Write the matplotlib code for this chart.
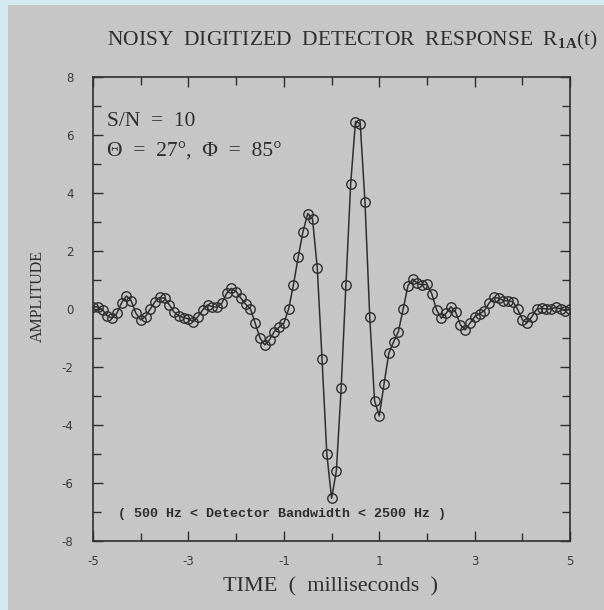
"""Noisy digitized detector response, redrawn from a plotter figure."""

import matplotlib

matplotlib.use("Agg")
import matplotlib.pyplot as plt
from matplotlib.patches import Rectangle
from matplotlib.ticker import MultipleLocator

# sample times (ms), 0.1 ms spacing as digitized
time_ms = [round(-5.0 + 0.1 * i, 1) for i in range(101)]
amplitude = [
    0.06, 0.08, -0.03, -0.24, -0.32, -0.15, 0.22, 0.45, 0.28, -0.15,
    -0.38, -0.26, 0.00, 0.25, 0.40, 0.37, 0.14, -0.11, -0.24, -0.30,
    -0.34, -0.44, -0.26, -0.03, 0.14, 0.08, 0.06, 0.20, 0.54, 0.71,
    0.60, 0.37, 0.16, 0.00, -0.50, -1.00, -1.24, -1.06, -0.78, -0.63,
    -0.49, 0.00, 0.83, 1.79, 2.66, 3.29, 3.10, 1.41, -1.74, -5.00,
    -6.53, -5.58, -2.74, 0.83, 4.31, 6.46, 6.39, 3.68, -0.29, -3.16,
    -3.69, -2.57, -1.52, -1.13, -0.78, 0.00, 0.80, 1.03, 0.88, 0.83,
    0.85, 0.52, -0.03, -0.32, -0.15, 0.08, -0.11, -0.55, -0.72, -0.49,
    -0.26, -0.17, -0.06, 0.20, 0.40, 0.37, 0.29, 0.28, 0.25, -0.01,
    -0.38, -0.47, -0.26, 0.00, 0.02, 0.00, 0.00, 0.06, 0.00, -0.06,
    0.00,
]
x_ticks = [-5, -3, -1, 1, 3, 5]
y_ticks = [-8, -6, -4, -2, 0, 2, 4, 6, 8]

SERIF = "Liberation Serif"
INK = "#2e2e2e"
PAPER = "#c6c6c6"

plt.rcParams["axes.unicode_minus"] = False
plt.rcParams["mathtext.fontset"] = "custom"
plt.rcParams["mathtext.rm"] = SERIF
plt.rcParams["mathtext.bf"] = SERIF + ":bold"

fig = plt.figure(figsize=(6.04, 6.10), dpi=100, facecolor="#d3e9ee")
# grey paper sheet over the light blue backdrop
fig.patches.append(Rectangle((0.013, 0.0), 0.987, 0.992, transform=fig.transFigure,
                             facecolor=PAPER, edgecolor="none", zorder=-10))

ax = fig.add_axes([0.154, 0.113, 0.790, 0.761])
ax.set_facecolor(PAPER)
ax.plot(time_ms, amplitude, color=INK, linewidth=1.1, marker="o", markersize=6.8,
        markerfacecolor="none", markeredgecolor=INK, markeredgewidth=1.0)

ax.set_xlim(-5, 5)
ax.set_ylim(-8, 8)
ax.set_xticks(x_ticks)
ax.set_yticks(y_ticks)
ax.xaxis.set_minor_locator(MultipleLocator(1))
ax.yaxis.set_minor_locator(MultipleLocator(1))
ax.tick_params(which="both", direction="in", top=True, right=True, color=INK,
               width=1.0, labelsize=8.5, labelcolor="#3a3a3a")
ax.tick_params(which="major", length=7)
ax.tick_params(which="minor", length=6)
ax.tick_params(axis="x", which="major", pad=10)
ax.tick_params(axis="y", which="major", pad=14)
for side in ax.spines.values():
    side.set_color(INK)
    side.set_linewidth(1.2)

ax.set_xlabel("TIME  (  milliseconds  )", family=SERIF, fontsize=16, color=INK)
ax.xaxis.set_label_coords(0.497, -0.078)
ax.set_ylabel("AMPLITUDE", family=SERIF, fontsize=11.5, color=INK)
ax.yaxis.set_label_coords(-0.098, 0.527)

ax.text(-4.7, 6.45, "S/N  =  10", family=SERIF, fontsize=15.5, color=INK, va="center")
ax.text(-4.7, 5.4, "\u0398  =  27\u00b0,  \u03a6  =  85\u00b0", family=SERIF, fontsize=15.5,
        color=INK, va="center")
ax.text(-4.47, -7.05, "( 500 Hz < Detector Bandwidth < 2500 Hz )", family="Liberation Mono",
        fontweight="bold", fontsize=9.6, color=INK, va="center")

fig.text(0.584, 0.934, r"NOISY  DIGITIZED  DETECTOR  RESPONSE  R$_{\mathbf{1A}}$(t)",
         family=SERIF, fontsize=15.5, color=INK, ha="center", va="center")

fig.savefig("out.png", dpi=100, facecolor=fig.get_facecolor())
plt.close(fig)
